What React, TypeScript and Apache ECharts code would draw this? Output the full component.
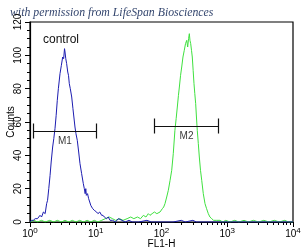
import React, { useEffect, useRef } from "react";
import * as echarts from "echarts";

const xTicks = [1, 10, 100, 1000, 10000];
const xMinorTicks = [2, 3, 4, 5, 6, 7, 8, 9, 20, 30, 40, 50, 60, 70, 80, 90, 200, 300, 400, 500, 600, 700, 800, 900, 2000, 3000, 4000, 5000, 6000, 7000, 8000, 9000];
const yTicks = [0, 20, 40, 60, 80, 100, 120];

const controlCounts: [number, number][] = [
  [1.0, 0], [1.05, 1], [1.12, 1], [1.2, 2], [1.3, 2], [1.42, 4], [1.5, 3], [1.6, 6], [1.7, 5], [1.79, 11],
  [1.85, 13], [1.93, 20], [2.02, 28], [2.1, 36], [2.21, 45], [2.3, 50], [2.4, 56], [2.5, 64], [2.6, 73], [2.7, 80],
  [2.86, 89], [3.0, 94], [3.14, 99], [3.25, 98], [3.35, 104], [3.41, 102], [3.5, 98], [3.61, 95], [3.75, 90], [3.85, 88],
  [3.96, 83], [4.1, 80], [4.31, 75], [4.5, 68], [4.83, 57], [5.0, 53], [5.24, 49], [5.5, 42], [5.76, 35], [6.1, 29],
  [6.47, 23], [6.7, 20], [6.9, 17], [7.05, 20], [7.2, 16], [7.5, 17], [7.8, 14], [8.1, 12], [8.4, 10], [8.67, 9],
  [9.0, 8], [9.5, 7], [10.3, 6], [10.8, 5], [11.5, 6], [12.3, 4], [12.9, 4], [13.5, 3], [14.5, 2], [15.5, 3],
  [16.5, 1], [18, 1], [20, 0], [22, 2], [25, 1], [28, 0], [32, 1], [36, 0], [45, 0], [60, 1], [70, 0],
  [150, 0], [200, 1], [230, 0], [300, 1], [340, 0], [1000, 0], [10000, 0]
];

const sampleCounts: [number, number][] = [
  [1, 0], [1.15, 1], [1.3, 0], [1.5, 1], [1.7, 0], [2, 1], [2.3, 0], [2.6, 1], [3, 0], [3.4, 1],
  [3.9, 0], [4.4, 1], [5, 0], [5.7, 1], [6.5, 0], [7.4, 1], [8.4, 0], [9.5, 1], [10.8, 0], [12.3, 1],
  [14, 2], [16, 3], [18, 2], [20, 1], [23, 2], [26, 1], [30, 2], [34, 3], [38, 2], [43, 3],
  [48, 2], [53, 4], [58, 3], [63, 5], [66.8, 4], [72, 5], [78, 6], [85, 5], [94.9, 6], [103, 8],
  [108, 9], [113, 11], [120, 15], [127, 19], [135, 25], [143, 31], [151, 41], [160, 55], [167, 62], [174, 69],
  [181, 76], [187, 81], [195, 88], [203, 93], [212, 99], [222, 103], [232, 107], [242, 109], [250, 105], [258, 110],
  [265, 113], [271, 109], [278, 107], [286, 103], [294, 99], [303, 91], [312, 83], [321, 77], [331, 71], [340, 63],
  [350, 55], [363, 47], [376, 39], [392, 31], [409, 25], [432, 17], [459, 11], [485, 8], [515, 5], [545, 3],
  [580, 2], [620, 1], [680, 1], [776, 1], [850, 0], [950, 1], [1100, 0], [1300, 1], [1500, 0], [1800, 1],
  [2100, 0], [2500, 1], [3000, 0], [3600, 1], [4300, 0], [5200, 1], [6200, 0], [7500, 1], [8500, 0], [10000, 0]
];

// gates: name, from, to, level (counts), half tick height
const gateNames = ["M1", "M2"];
const gateFrom = [1.12, 78.8];
const gateTo = [10.3, 731];
const gateLevel = [54.6, 57.6];
const gateHalf = 4.5;

export default function App() {
  const ref = useRef<HTMLDivElement>(null);
  useEffect(() => {
    if (!ref.current) return;
    const chart = echarts.init(ref.current, undefined, { renderer: "svg" });
    const gateSegments: any[] = [];
    gateNames.forEach((_, i) => {
      const y = gateLevel[i];
      gateSegments.push({ coords: [[gateFrom[i], y], [gateTo[i], y]] });
      gateSegments.push({ coords: [[gateFrom[i], y - gateHalf], [gateFrom[i], y + gateHalf]] });
      gateSegments.push({ coords: [[gateTo[i], y - gateHalf], [gateTo[i], y + gateHalf]] });
    });
    const gateLabels = gateNames.map((n, i) => ({
      value: [Math.sqrt(gateFrom[i] * gateTo[i]), gateLevel[i]],
      name: n,
    }));
    const font = "Liberation Sans, Arial, sans-serif";
    chart.setOption({
      animation: false,
      grid: { left: 30, top: 22, width: 263, height: 200, outerBoundsMode: "none", containLabel: false, show: true, borderColor: "#000", borderWidth: 1.2, backgroundColor: "transparent" },
      graphic: [
        { type: "text", left: 10, top: 6, style: { text: "with permission from LifeSpan Biosciences", fontFamily: "Liberation Serif, serif", fontStyle: "italic", fontSize: 11.8, fill: "#34466e" } },
        { type: "text", left: 43, top: 33, style: { text: "control", fontFamily: font, fontSize: 12, fill: "#111" } },
      ],
      xAxis: [
        {
          type: "log", logBase: 10, min: 1, max: 10000,
          name: "FL1-H", nameLocation: "middle", nameGap: 16, nameMoveOverlap: false,
          nameTextStyle: { fontFamily: font, fontSize: 10, color: "#000", verticalAlign: "top" },
          axisLine: { show: true, lineStyle: { color: "#000", width: 1.2 } },
          axisTick: { show: true, length: 5, inside: false, lineStyle: { color: "#000" }, customValues: xTicks },
          axisLabel: {
            margin: 4,
            customValues: xTicks,
            formatter: (v: number) => "{b|10}{s|" + Math.round(Math.log10(v)) + "}",
            rich: {
              b: { fontFamily: font, fontSize: 10, color: "#000", verticalAlign: "bottom", lineHeight: 12 },
              s: { fontFamily: font, fontSize: 8, color: "#000", verticalAlign: "top", lineHeight: 12, padding: [0, 0, 6, 0] },
            },
          },
          splitLine: { show: false },
          minorTick: { show: false },
        },
        {
          type: "log", logBase: 10, min: 1, max: 10000, position: "bottom",
          axisLine: { show: false },
          axisTick: { show: true, length: 3, inside: false, lineStyle: { color: "#000" }, customValues: xMinorTicks },
          axisLabel: { show: false },
          splitLine: { show: false },
        },
      ],
      yAxis: {
        type: "value", min: 0, max: 120, interval: 20,
        name: "Counts", nameLocation: "middle", nameGap: 15, nameMoveOverlap: false,
        nameTextStyle: { fontFamily: font, fontSize: 10, color: "#000", verticalAlign: "bottom" },
        axisLine: { show: true, lineStyle: { color: "#000", width: 1.2 } },
        axisTick: { show: true, length: 5, lineStyle: { color: "#000" } },
        minorTick: { show: true, splitNumber: 4, length: 3, lineStyle: { color: "#000" } },
        axisLabel: { rotate: 90, margin: 8, fontFamily: font, fontSize: 10, color: "#000", customValues: yTicks },
        splitLine: { show: false },
      },
      series: [
        { type: "line", data: sampleCounts, showSymbol: false, lineStyle: { color: "#3fe03f", width: 1 }, z: 3 },
        { type: "line", data: controlCounts, showSymbol: false, lineStyle: { color: "#1c1cb0", width: 1 }, z: 4 },
        { type: "lines", coordinateSystem: "cartesian2d", data: gateSegments, lineStyle: { color: "#111", width: 1.2, opacity: 1 }, z: 5 },
        {
          type: "scatter", data: gateLabels, symbolSize: 0, z: 6,
          label: { show: true, position: "bottom", distance: 4, formatter: (p: any) => p.name, fontFamily: font, fontSize: 10, color: "#000" },
        },
      ],
    });
    return () => chart.dispose();
  }, []);
  return <div ref={ref} style={{ position: "fixed", left: 0, top: 0, width: 304, height: 251 }} />;
}
